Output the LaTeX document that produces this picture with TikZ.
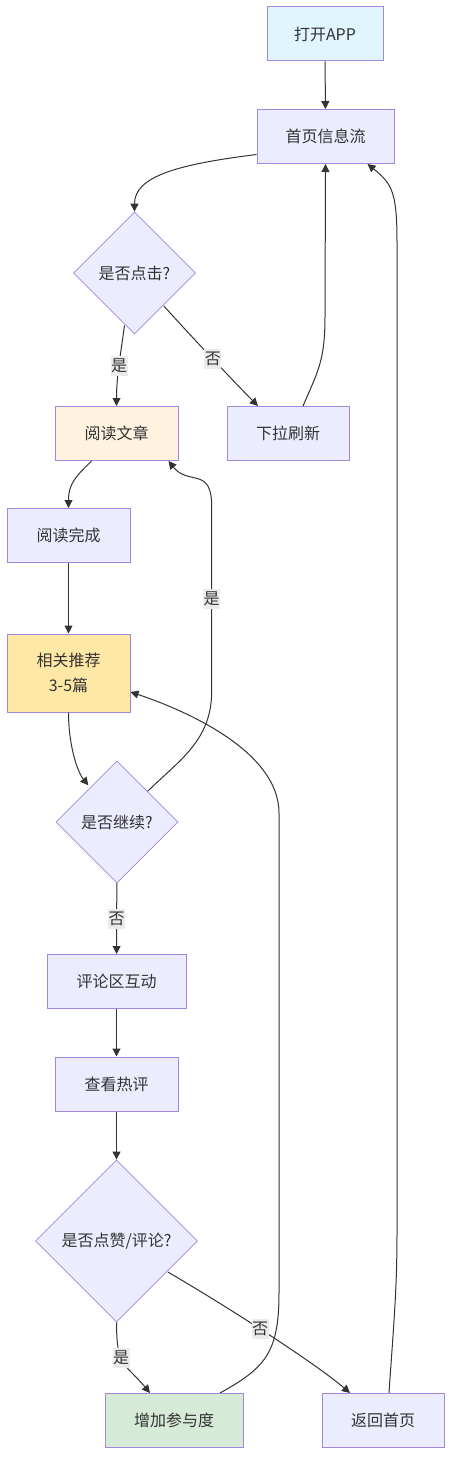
\documentclass[tikz,border=0pt]{standalone}
\usepackage{fontspec}
\newfontfamily\cjk{Noto Sans CJK SC}
\usepackage{tikz}
\usetikzlibrary{arrows.meta,calc,shapes.geometric}
\definecolor{Ink}{HTML}{333333}
\definecolor{Edge}{HTML}{333333}
\definecolor{Stroke}{HTML}{A386E0}
\definecolor{NodeFill}{HTML}{ECECFF}
\definecolor{SkyFill}{HTML}{E1F5FE}
\definecolor{CreamFill}{HTML}{FFF3E0}
\definecolor{GoldFill}{HTML}{FFE8A6}
\definecolor{MintFill}{HTML}{D5EBD8}
\definecolor{TagFill}{HTML}{EBEBEB}
\newlength\px
\setlength\px{0.75pt}
\tikzset{
  box/.style={draw=Stroke,line width=1\px,fill=NodeFill,text=Ink,minimum height=54\px,inner sep=0pt,align=center},
  boxsky/.style={box,fill=SkyFill},
  boxcream/.style={box,fill=CreamFill},
  boxgold/.style={box,fill=GoldFill},
  boxmint/.style={box,fill=MintFill},
  decision/.style={diamond,aspect=1,draw=Stroke,line width=0.8\px,fill=NodeFill,text=Ink,inner sep=0pt,align=center},
  arrow/.style={-{Triangle[length=6pt,width=6pt]},line width=0.75pt,draw=Edge},
  tag/.style={fill=TagFill,text=Ink,inner xsep=0.5\px,inner ysep=3\px}
}
\begin{document}
\begin{tikzpicture}[x=0.75pt,y=-0.75pt,font=\cjk\fontsize{12pt}{18.5pt}\selectfont]
  \useasboundingbox (0,0) rectangle (460,1480);
  \node[boxsky,minimum width=116\px] (open) at (325,34) {打开APP};
  \node[box,minimum width=137\px] (feed) at (325.5,136.5) {首页信息流};
  \node[decision,minimum width=122\px,minimum height=122\px] (click) at (134.5,273) {是否点击?};
  \node[boxcream,minimum width=123\px] (read) at (116.5,433.5) {阅读文章};
  \node[box,minimum width=122\px] (refresh) at (288,433.5) {下拉刷新};
  \node[box,minimum width=123\px] (done) at (68.5,535.5) {阅读完成};
  \node[boxgold,minimum width=123\px,minimum height=78\px] (recommend) at (68.5,673) {相关推荐\\3-5篇};
  \node[decision,minimum width=122\px,minimum height=122\px] (more) at (117,822) {是否继续?};
  \node[box,minimum width=139\px] (comment) at (116.5,981.5) {评论区互动};
  \node[box,minimum width=123\px] (hot) at (116.5,1084) {查看热评};
  \node[decision,minimum width=162\px,minimum height=162\px] (like) at (116.5,1241) {是否点赞/评论?};
  \node[boxmint,minimum width=138\px] (engage) at (174,1420.5) {增加参与度};
  \node[box,minimum width=122\px] (home) at (383,1420.5) {返回首页};
  \draw[arrow] (open) -- (feed);
  \draw[arrow] ($(feed.west)+(0,18)$) .. controls +(-80,10) and +(0,-35) .. (click.north);
  \draw[arrow] ($(click.south)+(-10,-9)$) .. controls +(-4,30) and +(0,-30) .. node[tag,pos=0.5] {是} (read.north);
  \draw[arrow] ($(click.east)+(-32,33)$) .. controls +(25,28) and +(-20,-20) .. node[tag,pos=0.5] {否} ($(refresh.north)+(-30,0)$);
  \draw[arrow] ($(refresh.north)+(15,0)$) .. controls +(15,-35) and +(0,45) .. ++(22,-90) -- (feed.south);
  \draw[arrow] ($(home.north)+(6,0)$) .. controls +(4,-60) and +(0,60) .. ++(8,-160) -- ++(0,-990) .. controls +(0,-50) and +(25,20) .. ($(feed.south east)+(-27,0)$);
  \draw[arrow] ($(read.south)+(-25,0)$) .. controls +(-15,15) and +(0,-25) .. (done.north);
  \draw[arrow] (done) -- (recommend);
  \draw[arrow] (recommend.south) .. controls +(0,30) and +(-12,-15) .. ($(more.north west)+(2,-6)$);
  \draw[arrow] (more.north east) .. controls +(30,-30) and +(0,50) .. ++(64,-100) -- node[tag] {是} ++(0,-185) .. controls +(0,-40) and +(20,25) .. ($(read.south east)+(-10,0)$);
  \draw[arrow] (more) -- node[tag] {否} (comment);
  \draw[arrow] (comment) -- (hot);
  \draw[arrow] (hot) -- (like);
  \draw[arrow] (like.south) .. controls +(0,45) and +(-25,-30) .. node[tag,pos=0.4] {是} ($(engage.north)+(-24,0)$);
  \draw[arrow] ($(like.east)+(-30,31)$) .. controls +(60,35) and +(-35,-30) .. node[tag,pos=0.46] {否} ($(home.north)+(-33,0)$);
  \draw[arrow] ($(engage.north)+(46,0)$) .. controls +(45,-25) and +(0,60) .. ++(59,-100) -- ++(0,-480) .. controls +(0,-60) and +(60,20) .. ($(recommend.east)+(0,19)$);
\end{tikzpicture}
\end{document}
